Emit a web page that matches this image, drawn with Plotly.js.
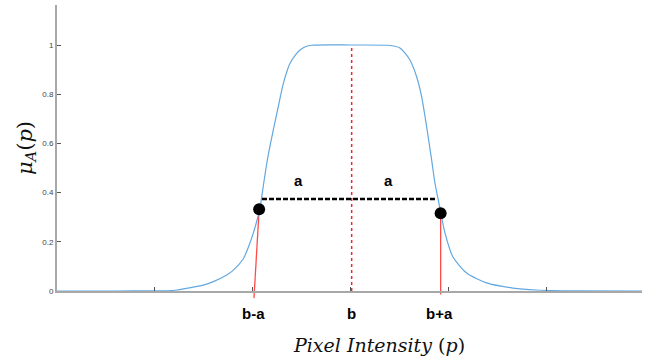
<!DOCTYPE html>
<html>
<head>
<meta charset="utf-8">
<script src="https://cdn.plot.ly/plotly-3.0.1.min.js"></script>
<style>html,body{margin:0;padding:0;background:#fff;}#chart{width:653px;height:364px;}</style>
</head>
<body>
<div id="chart"></div>
<script>
// Membership curve
const curveX = [0, 0.6, 1.0, 1.119, 1.221, 1.323, 1.493, 1.595, 1.732, 1.80, 1.90, 1.95, 2.003, 2.071, 2.11, 2.15, 2.207, 2.258, 2.31, 2.378, 2.43, 2.48, 2.54, 2.6, 3.0, 3.38, 3.45, 3.5, 3.55, 3.602, 3.670, 3.721, 3.772, 3.823, 3.857, 3.908, 3.959, 4.041, 4.181, 4.385, 4.653, 4.895, 5.3, 5.97];
const curveY = [0, 0, 0.0005, 0.001, 0.004, 0.011, 0.024, 0.038, 0.065, 0.085, 0.13, 0.175, 0.235, 0.337, 0.44, 0.54, 0.654, 0.749, 0.844, 0.926, 0.958, 0.980, 0.994, 0.999, 1.0, 0.999, 0.995, 0.988, 0.968, 0.939, 0.871, 0.79, 0.668, 0.533, 0.439, 0.337, 0.236, 0.138, 0.073, 0.033, 0.012, 0.004, 0.0005, 0];

// Highlighted points (b-a and b+a)
const pointX = [2.063, 3.915];
const pointY = [0.332, 0.316];

// Foot of the red guide lines on the x axis
const footX = [2.01, 3.915];

// Centre b
const centerX = 3.007;
const centerTop = 0.99;

// Dashed "a | a" span
const spanX = [2.092, 3.878];
const spanY = [0.374, 0.374];

// Labels
const markLabels = ['b-a', 'b', 'b+a'];
const markLabelX = [2.01, 3.007, 3.9];
const aLabels = ['a', 'a'];
const aLabelX = [2.469, 3.378];
const aLabelY = [0.450, 0.450];

const yTicks = [0, 0.2, 0.4, 0.6, 0.8, 1];
const yTickText = ['0', '0.2', '0.4', '0.6', '0.8', '1'];
const xTicks = [1, 2, 3, 4, 5];

const xRange = [0, 5.97];
const yRange = [0, 1.1626];
const toPaperY = v => (v - yRange[0]) / (yRange[1] - yRange[0]);

const traces = [
  {x: curveX, y: curveY, type: 'scatter', mode: 'lines',
   line: {color: '#62a8e0', width: 1.2, shape: 'spline', smoothing: 0.7}, hoverinfo: 'skip'},
  {x: [centerX, centerX], y: [0, centerTop], type: 'scatter', mode: 'lines',
   line: {color: '#ff2020', width: 1.5, dash: 'dot'}, hoverinfo: 'skip'},
  {x: spanX, y: spanY, type: 'scatter', mode: 'lines',
   line: {color: '#000', width: 2.5, dash: '5px,2px'}, hoverinfo: 'skip'},
  {x: pointX, y: pointY, type: 'scatter', mode: 'markers',
   marker: {color: '#000', size: 12}, cliponaxis: false, hoverinfo: 'skip'}
];

const shapes = [
  {type: 'line', xref: 'x', yref: 'paper', x0: footX[0], y0: -0.025, x1: pointX[0], y1: toPaperY(pointY[0]),
   line: {color: '#ff4a4a', width: 1.3}, layer: 'below'},
  {type: 'line', xref: 'x', yref: 'paper', x0: footX[1], y0: -0.012, x1: pointX[1], y1: toPaperY(pointY[1]),
   line: {color: '#ff4a4a', width: 1.3}, layer: 'below'}
];

const annotations = [];
markLabels.forEach((t, i) => annotations.push({
  text: t, x: markLabelX[i], xref: 'x', y: -0.077, yref: 'paper', showarrow: false,
  xanchor: 'center', yanchor: 'middle',
  font: {family: 'Liberation Sans, Arial, sans-serif', size: 15, color: '#000', weight: 'bold'}
}));
aLabels.forEach((t, i) => annotations.push({
  text: t, x: aLabelX[i], xref: 'x', y: aLabelY[i], yref: 'y', showarrow: false,
  xanchor: 'center', yanchor: 'middle',
  font: {family: 'Liberation Sans, Arial, sans-serif', size: 15, color: '#000', weight: 'bold'}
}));
annotations.push({
  text: '<i>Pixel Intensity</i> (<i>p</i>)', x: 0.55, xref: 'paper', y: -0.19, yref: 'paper',
  showarrow: false, xanchor: 'center', yanchor: 'middle',
  font: {family: 'DejaVu Serif, serif', size: 19, color: '#111'}
});

const layout = {
  width: 653, height: 364,
  margin: {l: 57, r: 11, t: 5, b: 73},
  paper_bgcolor: '#fff', plot_bgcolor: '#fff',
  showlegend: false,
  xaxis: {
    range: xRange, showgrid: false, zeroline: false,
    showline: true, linecolor: '#a8a8a8', linewidth: 2,
    tickvals: xTicks, ticks: 'inside', ticklen: 4, tickwidth: 1, tickcolor: '#555',
    showticklabels: false, fixedrange: true
  },
  yaxis: {
    range: yRange, showgrid: false, zeroline: false,
    showline: true, linecolor: '#a8a8a8', linewidth: 2,
    tickvals: yTicks, ticktext: yTickText, ticks: 'inside', ticklen: 4, tickwidth: 1, tickcolor: '#555',
    tickfont: {family: 'Liberation Sans, Arial, sans-serif', size: 8, color: '#444'},
    title: {text: '<i>μ<sub>A</sub></i>(<i>p</i>)', standoff: 4,
            font: {family: 'DejaVu Serif, serif', size: 21, color: '#111'}},
    fixedrange: true
  },
  shapes: shapes,
  annotations: annotations
};

Plotly.newPlot('chart', traces, layout, {displayModeBar: false, staticPlot: true});
</script>
</body>
</html>
